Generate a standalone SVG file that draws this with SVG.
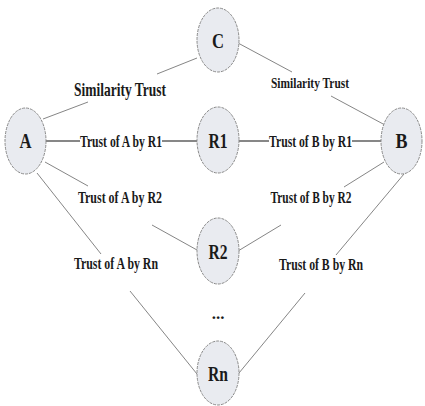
<svg xmlns="http://www.w3.org/2000/svg" width="425" height="406" viewBox="0 0 425 406">
<style>
.node ellipse{fill:#e9ebf0;stroke:#8a8a8a;stroke-width:1;stroke-dasharray:3 1}
.node text{font-family:"Liberation Serif",serif;font-size:22px;font-weight:bold;fill:#1a1a1a;text-anchor:middle}
.lbl{font-family:"Liberation Serif",serif;font-size:17px;font-weight:bold;fill:#1a1a1a;text-anchor:middle}
.thin{stroke:#666;stroke-width:0.8;fill:none}
.solid{stroke:#111;stroke-width:1.2;fill:none}
</style>
<rect width="425" height="406" fill="#fff"/>
<g id="connectors">
<path class="thin" d="M43,119 L88,102 M157,74 L197,58"/>
<path class="thin" d="M238,43 L292,72 M331,96 L385,125"/>
<path class="solid" d="M46,141 L80,141 M162,141 L197,141"/>
<path class="solid" d="M238,141 L269,141 M352,141 L381,141"/>
<path class="thin" d="M45,162 L88,186 M152,225 L197,250"/>
<path class="thin" d="M384,162 L344,187 M281,225 L238,251"/>
<path class="thin" d="M37,173 L101,254 M130,291 L197,374"/>
<path class="thin" d="M404,174 L336,255 M305,293 L239,373"/>
<text class="lbl" x="120" y="96" style="font-size:19px" textLength="92" lengthAdjust="spacingAndGlyphs">Similarity Trust</text>
<text class="lbl" x="310" y="88" style="font-size:14px" textLength="78" lengthAdjust="spacingAndGlyphs">Similarity Trust</text>
<text class="lbl" x="121" y="147" textLength="82" lengthAdjust="spacingAndGlyphs">Trust of A by R1</text>
<text class="lbl" x="310.5" y="147" textLength="83" lengthAdjust="spacingAndGlyphs">Trust of B by R1</text>
<text class="lbl" x="120" y="203" textLength="84" lengthAdjust="spacingAndGlyphs">Trust of A by R2</text>
<text class="lbl" x="311" y="203" textLength="81" lengthAdjust="spacingAndGlyphs">Trust of B by R2</text>
<text class="lbl" x="116" y="269" textLength="84" lengthAdjust="spacingAndGlyphs">Trust of A by Rn</text>
<text class="lbl" x="321" y="270" textLength="84" lengthAdjust="spacingAndGlyphs">Trust of B by Rn</text>
<text class="lbl" x="218" y="319">...</text>
</g>
<g id="node-A" class="node"><ellipse cx="25.5" cy="141" rx="20.5" ry="33"/><text x="25.5" y="148" textLength="12" lengthAdjust="spacingAndGlyphs">A</text></g>
<g id="node-C" class="node"><ellipse cx="218" cy="40" rx="21" ry="32"/><text x="218" y="48" textLength="12" lengthAdjust="spacingAndGlyphs">C</text></g>
<g id="node-R1" class="node"><ellipse cx="218" cy="140" rx="21" ry="33"/><text x="218" y="148" textLength="19" lengthAdjust="spacingAndGlyphs">R1</text></g>
<g id="node-B" class="node"><ellipse cx="401.5" cy="141" rx="20.5" ry="33"/><text x="401.5" y="148" textLength="12" lengthAdjust="spacingAndGlyphs">B</text></g>
<g id="node-R2" class="node"><ellipse cx="218" cy="251" rx="21" ry="33"/><text x="218" y="259" textLength="19" lengthAdjust="spacingAndGlyphs">R2</text></g>
<g id="node-Rn" class="node"><ellipse cx="218" cy="373" rx="21" ry="32"/><text x="218" y="381" textLength="20" lengthAdjust="spacingAndGlyphs">Rn</text></g>
</svg>
